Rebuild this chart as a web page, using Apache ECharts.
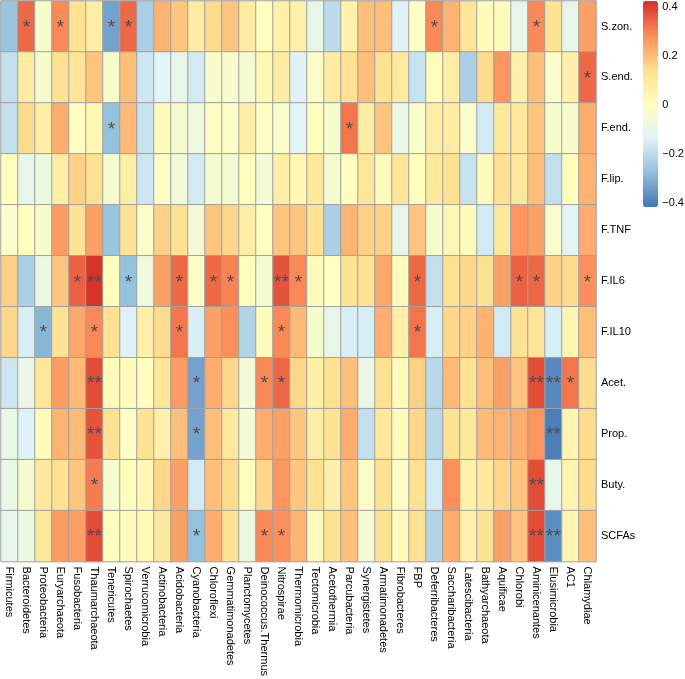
<!DOCTYPE html>
<html>
<head>
<meta charset="utf-8">
<script src="https://cdn.jsdelivr.net/npm/echarts@6/dist/echarts.min.js"></script>
<style>
html,body{margin:0;padding:0;background:#fff;}
#chart{width:685px;height:679px;}
</style>
</head>
<body>
<div id="chart"></div>
<script>
// ---- categories ----
const phyla = ["Firmicutes","Bacteroidetes","Proteobacteria","Euryarchaeota","Fusobacteria","Thaumarchaeota","Tenericutes","Spirochaetes","Verrucomicrobia","Actinobacteria","Acidobacteria","Cyanobacteria","Chloroflexi","Gemmatimonadetes","Planctomycetes","Deinococcus.Thermus","Nitrospirae","Thermomicrobia","Tectomicrobia","Acetothermia","Parcubacteria","Synergistetes","Armatimonadetes","Fibrobacteres","FBP","Deferribacteres","Saccharibacteria","Latescibacteria","Bathyarchaeota","Aquificae","Chlorobi","Aminicenantes","Elusimicrobia","AC1","Chlamydiae"];
const traits = ["S.zon.","S.end.","F.end.","F.lip.","F.TNF","F.IL6","F.IL10","Acet.","Prop.","Buty.","SCFAs"];

// ---- correlation values (one array per row, in phyla order) ----
const sZon  = [-0.26,0.34,-0.03,0.29,0.14,0.08,-0.33,0.34,-0.23,0.22,0.19,0.09,0.15,0.19,0.09,0.01,0.07,0.07,-0.10,-0.20,0.06,0.20,0.20,-0.14,-0.01,0.29,0.22,0.12,0.02,0.02,-0.10,0.29,0.13,-0.10,0.25];
const sEnd  = [-0.19,0.09,-0.03,0.14,0.12,0.19,-0.03,0.20,-0.17,-0.13,-0.10,-0.16,-0.03,-0.03,-0.04,0.04,0.09,-0.14,-0.02,0.09,0.14,0.20,0.14,0.10,-0.18,0.01,0.08,-0.23,0.15,0.27,0.07,0.20,-0.02,0.07,0.34];
const fEnd  = [-0.19,0.15,0.08,0.23,0.00,0.04,-0.27,0.21,-0.18,0.02,-0.04,-0.07,-0.01,-0.01,0.08,-0.01,-0.02,-0.13,0.01,-0.03,0.32,0.09,0.19,-0.09,-0.02,0.08,0.09,-0.02,-0.16,0.11,0.11,0.19,-0.03,-0.03,0.23];
const fLip  = [0.01,-0.10,-0.08,0.08,0.17,0.14,-0.04,0.08,-0.17,-0.01,-0.05,-0.16,-0.04,-0.04,0.01,-0.05,0.08,0.04,0.11,-0.04,0.01,0.12,0.02,0.12,0.01,0.11,0.14,-0.18,0.02,0.14,0.11,0.20,-0.19,0.01,0.22];
const fTNF  = [-0.02,0.01,-0.03,0.26,0.13,0.25,-0.26,0.13,-0.02,0.17,0.14,-0.05,0.19,0.16,0.08,0.01,0.19,0.19,0.14,-0.23,0.22,0.17,0.17,-0.10,0.19,-0.03,0.04,0.02,-0.16,0.11,0.27,0.25,-0.02,-0.13,0.23];
const fIL6  = [0.17,-0.23,-0.08,0.19,0.35,0.42,0.01,-0.27,-0.07,0.25,0.34,-0.01,0.34,0.30,0.01,-0.04,0.37,0.29,0.02,0.00,0.13,0.13,0.24,0.02,0.34,-0.19,0.14,0.16,0.14,0.25,0.35,0.34,0.17,0.15,0.28];
const fIL10 = [0.16,-0.15,-0.29,0.13,0.24,0.29,0.14,-0.14,0.07,0.15,0.32,-0.15,0.25,0.28,-0.22,0.02,0.29,0.21,-0.03,-0.10,-0.15,-0.15,0.23,0.07,0.32,-0.15,0.16,0.17,0.22,-0.16,0.13,0.12,-0.15,0.05,0.20];
const acet  = [-0.17,-0.09,0.12,0.26,0.21,0.38,0.02,0.02,0.00,0.12,0.26,-0.33,0.23,0.16,-0.05,0.29,0.34,0.16,0.07,0.14,0.20,-0.09,0.14,0.02,0.17,-0.21,0.21,0.14,0.20,0.25,0.19,0.38,-0.38,0.32,0.15];
const prop  = [-0.09,-0.14,0.02,0.22,0.21,0.37,0.13,-0.01,0.13,0.07,0.20,-0.33,0.20,0.11,-0.05,0.23,0.25,0.19,0.08,0.13,0.23,-0.19,0.11,0.02,0.16,-0.21,0.13,0.11,0.21,0.22,0.23,0.27,-0.40,0.05,0.15];
const buty  = [-0.09,-0.03,0.11,0.14,0.19,0.31,-0.03,0.01,0.04,0.16,0.25,-0.16,0.20,0.15,0.01,0.16,0.27,0.19,0.14,0.07,0.19,-0.01,0.14,-0.01,0.14,-0.16,0.28,0.07,0.11,0.16,0.19,0.38,-0.10,0.05,0.15];
const scfas = [-0.10,-0.08,0.11,0.26,0.25,0.38,0.01,0.02,0.03,0.11,0.25,-0.27,0.23,0.14,-0.08,0.29,0.28,0.22,0.02,0.14,0.20,-0.05,0.14,0.02,0.14,-0.22,0.23,0.07,0.13,0.25,0.19,0.38,-0.37,0.05,0.20];

// ---- significance marks: {phylum index: number of asterisks} per row ----
const sigSZon  = {1:1,3:1,6:1,7:1,25:1,31:1};
const sigSEnd  = {34:1};
const sigFEnd  = {6:1,20:1};
const sigFLip  = {};
const sigFTNF  = {};
const sigFIL6  = {4:1,5:2,7:1,10:1,12:1,13:1,16:2,17:1,24:1,30:1,31:1,34:1};
const sigFIL10 = {2:1,5:1,10:1,16:1,24:1};
const sigAcet  = {5:2,11:1,15:1,16:1,31:2,32:2,33:1};
const sigProp  = {5:2,11:1,32:2};
const sigButy  = {5:1,31:2};
const sigSCFAs = {5:2,11:1,15:1,16:1,31:2,32:2};

// ---- legend tick labels ----
const legendTicks = [-0.4,-0.2,0,0.2,0.4];
const colorRange = [-0.416, 0.424];

const rowValues = [sZon,sEnd,fEnd,fLip,fTNF,fIL6,fIL10,acet,prop,buty,scfas];
const rowSig = [sigSZon,sigSEnd,sigFEnd,sigFLip,sigFTNF,sigFIL6,sigFIL10,sigAcet,sigProp,sigButy,sigSCFAs];

const data = [];
rowValues.forEach((arr, r) => arr.forEach((v, c) => data.push([c, r, v])));

const chart = echarts.init(document.getElementById('chart'), null, {renderer:'canvas'});
const FONT = 'Liberation Sans, Arial, Helvetica, sans-serif';

chart.setOption({
  animation: false,
  backgroundColor: '#ffffff',
  grid: [
    {left: 1, top: 1, width: 595, height: 564},
    {left: 657, top: 7, width: 1, height: 196}
  ],
  xAxis: [
    {
      type: 'category', data: phyla, gridIndex: 0, position: 'bottom',
      axisLine: {show: false}, axisTick: {show: false}, splitLine: {show: false},
      axisLabel: {rotate: -90, interval: 0, margin: 5, fontSize: 11, color: '#000', fontFamily: FONT}
    },
    {type: 'value', gridIndex: 1, show: false}
  ],
  yAxis: [
    {
      type: 'category', data: traits, gridIndex: 0, position: 'right', inverse: true,
      axisLine: {show: false}, axisTick: {show: false}, splitLine: {show: false},
      axisLabel: {interval: 0, margin: 5, fontSize: 11, color: '#000', fontFamily: FONT}
    },
    {
      type: 'value', gridIndex: 1, position: 'right', min: legendTicks[0], max: legendTicks[legendTicks.length-1], interval: 0.2,
      axisLine: {show: false}, axisTick: {show: false}, splitLine: {show: false},
      axisLabel: {margin: 5, fontSize: 11, color: '#000', fontFamily: FONT,
        formatter: v => { const r = Math.round(v*10)/10; return r === 0 ? '0' : (r < 0 ? '\u2212' + Math.abs(r).toFixed(1) : r.toFixed(1)); }}
    }
  ],
  visualMap: {
    type: 'continuous', min: colorRange[0], max: colorRange[1], calculable: false,
    seriesIndex: 0, left: 643, top: 1, itemWidth: 15, itemHeight: 206, padding: 0,
    text: null, hoverLink: false,
    inRange: {color: ['#4575B4','#91BFDB','#E0F3F8','#FFFFBF','#FEE090','#FC8D59','#D73027']}
  },
  series: [{
    type: 'heatmap', xAxisIndex: 0, yAxisIndex: 0, data: data,
    itemStyle: {borderColor: '#a0a0a0', borderWidth: 1},
    emphasis: {disabled: true},
    label: {
      show: true, color: '#4d4d4d', fontSize: 19, fontFamily: FONT, offset: [0, 1],
      formatter: p => { const n = rowSig[p.data[1]][p.data[0]]; return n ? '*'.repeat(n) : ''; }
    }
  }]
});
</script>
</body>
</html>
